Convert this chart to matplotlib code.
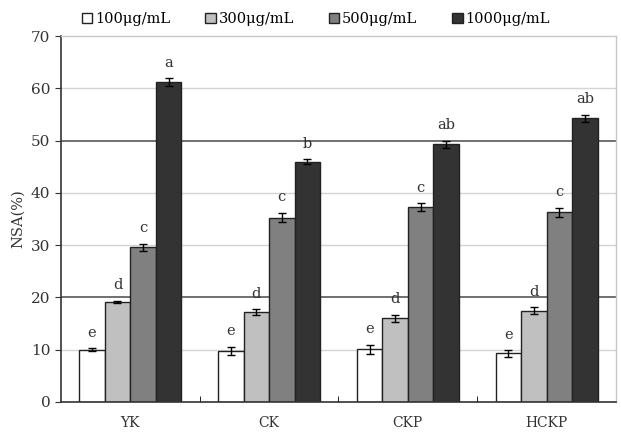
import numpy as np
import matplotlib.pyplot as plt
from matplotlib.patches import Patch

plt.rcParams['font.family'] = ['DejaVu Serif']

categories = ["YK", "CK", "CKP", "HCKP"]
series_labels = ["100μg/mL", "300μg/mL", "500μg/mL", "1000μg/mL"]

# rows = concentration, columns = sample
values = [
    [10.0, 9.8, 10.1, 9.3],
    [19.2, 17.2, 16.0, 17.5],
    [29.6, 35.3, 37.3, 36.3],
    [61.2, 46.0, 49.3, 54.3],
]
errors = [
    [0.3, 0.8, 0.9, 0.6],
    [0.2, 0.6, 0.7, 0.7],
    [0.7, 0.9, 0.7, 0.9],
    [0.8, 0.5, 0.7, 0.7],
]
letters = [
    ["e", "e", "e", "e"],
    ["d", "d", "d", "d"],
    ["c", "c", "c", "c"],
    ["a", "b", "ab", "ab"],
]
colors = ["#ffffff", "#c0c0c0", "#808080", "#333333"]

fig = plt.figure(figsize=(6.21, 4.36), dpi=100)
ax = fig.add_axes([0.098, 0.078, 0.894, 0.839])

x = np.arange(len(categories))
width = 0.184
offsets = (np.arange(4) - 1.5) * width

# grid lines
for yv in [10, 30, 40, 60]:
    ax.axhline(yv, color="#d4d4d4", linewidth=1.0, zorder=0)
for yv in [20, 50]:
    ax.axhline(yv, color="#707070", linewidth=1.4, zorder=0)

for i in range(4):
    ax.bar(x + offsets[i], values[i], width, color=colors[i],
           edgecolor="#222222", linewidth=1.0, zorder=2)
    ax.errorbar(x + offsets[i], values[i], yerr=errors[i], fmt="none",
                ecolor="black", elinewidth=1.0, capsize=3, capthick=1.0, zorder=3)
    for j in range(len(categories)):
        ax.annotate(letters[i][j], (x[j] + offsets[i], values[i][j] + errors[i][j]),
                    xytext=(0, 6), textcoords="offset points",
                    ha="center", va="bottom", fontsize=10.5, color="#333333")

ax.set_xlim(-0.5, 3.5)
ax.set_ylim(0, 70)
ax.set_yticks(range(0, 71, 10))
ax.set_xticks(x)
ax.set_xticklabels(categories)
ax.set_xticks(np.arange(0.5, 3.5, 1.0), minor=True)
ax.tick_params(axis="x", which="major", length=0, labelsize=10, pad=10, colors="#333333")
ax.tick_params(axis="x", which="minor", length=4, direction="in")
ax.tick_params(axis="y", length=4, direction="out", labelsize=11, colors="#333333")
ax.set_ylabel("NSA(%)", fontsize=10.5, color="#333333", labelpad=4)

for side in ["left", "bottom"]:
    ax.spines[side].set_color("#333333")
    ax.spines[side].set_linewidth(1.2)
for side in ["top", "right"]:
    ax.spines[side].set_color("#c8c8c8")
    ax.spines[side].set_linewidth(1.0)

handles = [Patch(facecolor=c, edgecolor="#222222") for c in colors]
ax.legend(handles, series_labels, ncol=4, loc="lower left",
          bbox_to_anchor=(0.02, 1.0), frameon=False, fontsize=10.5,
          handlelength=0.7, handleheight=0.7, handletextpad=0.2,
          columnspacing=2.4, borderaxespad=0.3)

fig.savefig("out.png", dpi=100)
